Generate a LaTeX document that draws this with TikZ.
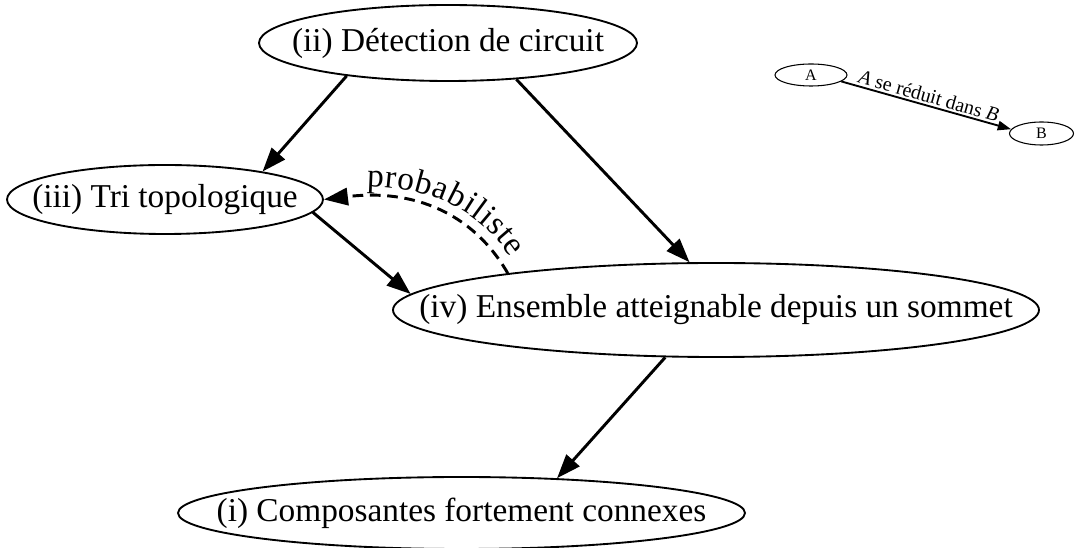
\documentclass[tikz,border=0pt]{standalone}
\usepackage{fontspec}
\setmainfont{Liberation Serif}
\usetikzlibrary{arrows.meta,shapes.geometric,decorations.text}
\tikzset{
    task/.style={ellipse, draw, line width=1.4pt, inner sep=0pt, font=\fontsize{25}{30}\selectfont},
    legnode/.style={ellipse, draw, line width=0.8pt, inner sep=0pt, font=\fontsize{12}{14}\selectfont},
    reduc/.style={line width=2.2pt, -{Triangle[length=18pt,width=13pt]}}
}
\newcommand{\ztext}[1]{\makebox[0pt]{#1}}

\begin{document}
\begin{tikzpicture}[x=0.75pt,y=0.75pt]
    \useasboundingbox (0,0) rectangle (1075,-548);
    \node[task, minimum width=283.5pt, minimum height=57pt] (detect) at (448,-43) {\ztext{(ii) Détection de circuit}};
    \node[task, minimum width=237pt, minimum height=51.75pt] (tri) at (165,-199.5) {\ztext{(iii) Tri topologique}};
    \node[task, minimum width=484.5pt, minimum height=70.5pt] (ens) at (716,-310) {\ztext{(iv) Ensemble atteignable depuis un sommet}};
    \node[task, minimum width=425.25pt, minimum height=54pt] (cfc) at (461.5,-513) {\ztext{(i) Composantes fortement connexes}};
    \node[legnode, minimum width=54pt, minimum height=16.5pt] (ra) at (811,-75) {\ztext{A}};
    \node[legnode, minimum width=48pt, minimum height=17.25pt] (rb) at (1041.5,-133.5) {\ztext{B}};

    \draw[reduc] (detect.198) -- (tri.16);
    \draw[reduc] (detect.332) -- (ens.119);
    \draw[reduc] (tri.355) -- (ens.177);
    \draw[reduc] (ens.223) -- (cfc.20);
    \draw[reduc, dash pattern=on 8pt off 5pt] (ens.170) .. controls +(120:70) and +(7:90) .. (tri.east);
    \path[decorate, decoration={text along path, raise=8pt, text align={left indent=32pt}, text={|\fontsize{25}{30}\selectfont|probabiliste}}] (tri.east) .. controls +(7:90) and +(120:70) .. (ens.170);
    \draw[line width=1.4pt, -{Triangle[length=10pt,width=7pt]}] (ra.348) -- node[sloped, above, inner sep=1.5pt, font=\fontsize{15}{17}\selectfont] {\textit{A} se réduit dans \textit{B}} (rb.172);
\end{tikzpicture}
\end{document}
